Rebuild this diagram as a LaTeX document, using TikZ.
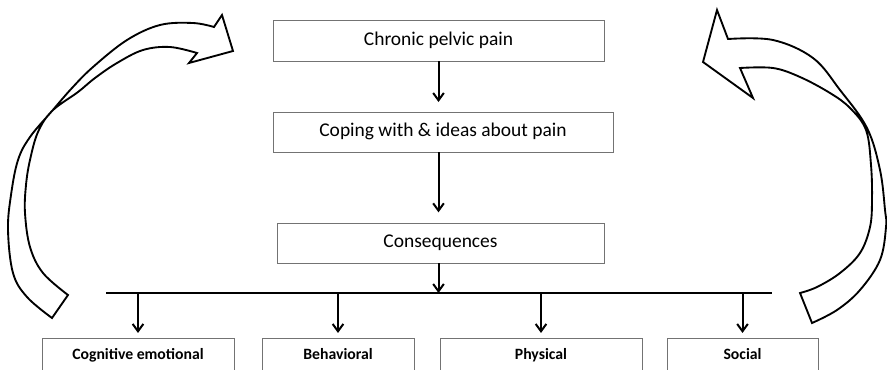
\documentclass[tikz,border=0pt]{standalone}
\usepackage{fontspec}
\setmainfont{Carlito}
\usepackage{tikz}
\usetikzlibrary{arrows.meta}

\tikzset{
  mainbox/.style={draw=black!55, line width=0.75pt, inner sep=0pt, outer sep=0pt, text height=10pt, text depth=3pt, font=\fontsize{14.6}{16}\selectfont},
  subbox/.style={draw=black!55, line width=0.75pt, inner sep=0pt, outer sep=0pt, minimum height=26pt, text height=8pt, text depth=2.5pt, font=\fontsize{11.8}{13}\selectfont\bfseries},
  flow/.style={line width=1.5pt, -{Straight Barb[length=5.5pt,width=8pt,line width=1.5pt]}},
  bigarrow/.style={line width=1.4pt, fill=white, line join=miter}
}

\begin{document}
\begin{tikzpicture}[x=0.75pt, y=-0.75pt]
  \useasboundingbox (0,0) rectangle (887,369);
  \clip (0,0) rectangle (887,369);

  % Main chain
  \node[mainbox, minimum width=248.25pt, minimum height=30.75pt] (chronic) at (438.5,40.5) {Chronic pelvic pain};
  \node[mainbox, minimum width=255pt, minimum height=30pt] (coping) at (443,132) {Coping with \& ideas about pain};
  \node[mainbox, minimum width=245.25pt, minimum height=30pt] (cons) at (440.5,243) {Consequences};

  \draw[flow, shorten >=7.5pt] (chronic.south) -- (chronic.south |- coping.north);
  \draw[flow, shorten >=8pt] (chronic.south |- coping.south) -- (chronic.south |- cons.north);

  % Bar and the four kinds of consequences
  \coordinate (barL) at (106,293);
  \coordinate (barR) at (772,293);
  \draw[line width=2.1pt] (barL) -- (barR);
  \draw[flow] (cons.south -| chronic.south) -- (chronic.south |- barL);

  \node[subbox, minimum width=144pt] (cog) at (138,356.3) {Cognitive emotional};
  \node[subbox, minimum width=114pt] (beh) at (338,356.3) {Behavioral};
  \node[subbox, minimum width=151.5pt] (phys) at (541,356.3) {Physical};
  \node[subbox, minimum width=113.25pt] (soc) at (742.5,356.3) {Social};

  \foreach \n in {cog,beh,phys,soc}
    \draw[flow, shorten >=4.5pt] (\n.north |- barL) -- (\n.north);

  % Feedback arrow on the left
  \draw[bigarrow] plot[smooth, tension=0.6] coordinates {(52,318) (27,297) (13,273) (8,230) (11,195) (18,160) (30,137) (52,111) (72,88) (93,67) (127,40) (160,25) (193,23) (214,27)}
    -- (222,15) -- (233,51) -- (189,63) -- (197,53)
    -- plot[smooth, tension=0.6] coordinates {(197,53) (170,47) (143,50) (117,63) (95,78) (78,92) (52,111) (38,132) (30,160) (26,185) (25,213) (30,247) (43,273) (68,295)}
    -- cycle;

  % Feedback arrow on the right
  \draw[bigarrow] plot[smooth, tension=0.6] coordinates {(728,39) (773,40) (813,58) (840,90) (867,128) (880,170) (885,210) (886,227) (880,260) (860,290) (837,310) (812,323)}
    -- (800,293)
    -- plot[smooth, tension=0.6] coordinates {(800,293) (817,287) (840,273) (860,253) (870,227) (872,200) (871,165) (866,130) (850,108) (830,93) (800,77) (773,68) (740,68)}
    -- (753,98) -- (703,62) -- (717,10) -- cycle;
\end{tikzpicture}
\end{document}
